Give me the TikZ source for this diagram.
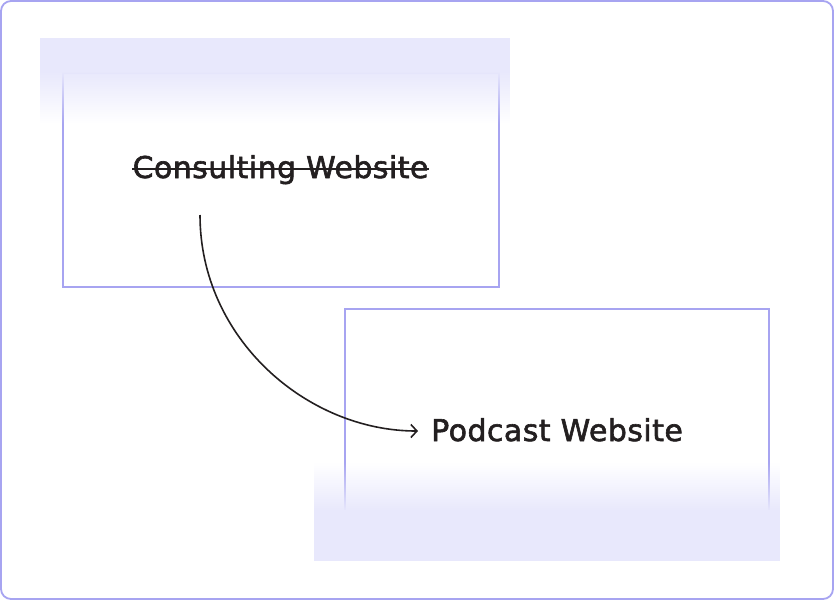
\documentclass[tikz,border=0pt]{standalone}
\usepackage{fontspec}
\setmainfont{DejaVu Sans}
\newfontfamily\sitefont[FakeBold=2, LetterSpace=1.5]{DejaVu Sans}
\usepackage{xcolor}
\usepackage{tikz}
\usetikzlibrary{arrows.meta,positioning,fadings}

\definecolor{lavline}{HTML}{A7A4F1}
\definecolor{lavfill}{HTML}{E8E8FC}
\definecolor{inkdark}{HTML}{231F20}
\tikzfading[name=fade down, top color=transparent!0, bottom color=transparent!100]
\tikzfading[name=fade up, top color=transparent!100, bottom color=transparent!0]

\begin{document}
\begin{tikzpicture}[
  x=1pt, y=-1pt,
  frame/.style={draw=lavline, line width=1.8pt, rounded corners=10pt},
  box/.style={draw=lavline, line width=1.8pt, inner sep=0pt},
  site/.style={inner sep=0pt, text=inkdark, font=\sitefont\fontsize{30}{36}\selectfont},
  arr/.style={-{Straight Barb[length=6pt,width=13pt]}, line width=1.6pt, inkdark}
]
  \useasboundingbox (0,0) rectangle (834,600);
  \draw[frame] (1,1) rectangle (833,599);

  % old site
  \node[box, minimum width=436pt, minimum height=214pt] (oldbox) at (281,180) {};
  \fill[lavfill] (40,38) rectangle (510,72);
  \fill[lavfill, path fading=fade down] (40,71.5) rectangle (510,124);
  \node[site, anchor=base] (consult) at (280.5,178) {Consulting Website};
  \draw[inkdark, line width=1.5pt]
    ([yshift=9pt]consult.base west) -- ([yshift=9pt]consult.base east);

  % new site
  \node[box, minimum width=424pt, minimum height=231pt] (newbox) at (557,424.5) {};
  \fill[lavfill, path fading=fade up] (314,462) rectangle (780,510.5);
  \fill[lavfill] (314,510) rectangle (780,561);
  \node[site, anchor=base west] (podcast) at (431,441) {Podcast Website};

  % move
  \coordinate (start) at (200,215);
  \draw[arr, shorten >=13pt]
    (start) to[out=-90, in=180] ([yshift=10pt]podcast.base west);
\end{tikzpicture}
\end{document}
